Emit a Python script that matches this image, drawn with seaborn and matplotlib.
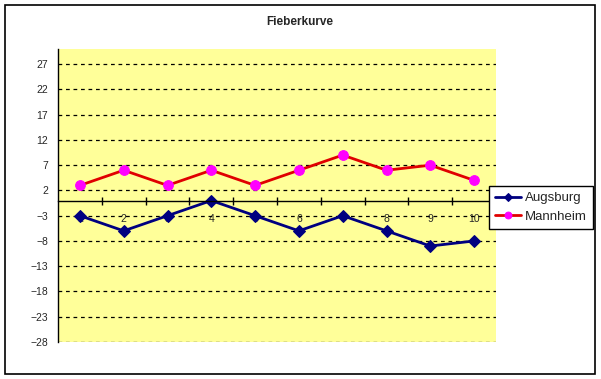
import seaborn as sns
import numpy as np
import pandas as pd
import matplotlib.pyplot as plt
from matplotlib.patches import Rectangle

# data
tage = [1, 2, 3, 4, 5, 6, 7, 8, 9, 10]
augsburg = [-3, -6, -3, 0, -3, -6, -3, -6, -9, -8]
mannheim = [3, 6, 3, 6, 3, 6, 9, 6, 7, 4]
y_ticks = [-28, -23, -18, -13, -8, -3, 2, 7, 12, 17, 22, 27]

df = pd.DataFrame({'Tag': tage, 'Augsburg': augsburg, 'Mannheim': mannheim})

sns.set_style('white')
plt.rcParams['font.family'] = ['Liberation Sans', 'DejaVu Sans']

fig = plt.figure(figsize=(6.01, 3.79), dpi=100)
ax = fig.add_axes([58 / 601, 37 / 379, 438 / 601, 293 / 379])
ax.set_facecolor('#FFFF99')

# outer chart border
fig.patches.append(Rectangle((5 / 601, 5 / 379), 590 / 601, 369 / 379,
                             transform=fig.transFigure, fill=False,
                             edgecolor='black', linewidth=1.2))

sns.lineplot(data=df, x='Tag', y='Augsburg', ax=ax, color='#000080',
             marker='D', markersize=6.5, markerfacecolor='#000080',
             markeredgecolor='#000080', linewidth=2, label='Augsburg',
             legend=False)
sns.lineplot(data=df, x='Tag', y='Mannheim', ax=ax, color='#E00000',
             marker='o', markersize=7, markerfacecolor='#FF00FF',
             markeredgecolor='#FF00FF', linewidth=2, label='Mannheim',
             legend=False)

ax.set_xlim(0.5, 10.5)
ax.set_ylim(-28, 30)
ax.set_yticks(y_ticks)
ax.set_xticks(tage)
ax.set_xticks(np.arange(1.5, 10.5, 1), minor=True)
ax.set_xlabel('')
ax.set_ylabel('')

ax.grid(axis='y', color='black', linestyle=(0, (3, 3)), linewidth=0.9)
ax.grid(axis='x', visible=False)

for s in ['top', 'right']:
    ax.spines[s].set_visible(False)
ax.spines['left'].set_color('black')
ax.spines['left'].set_linewidth(1)
ax.spines['bottom'].set_position(('data', 0))
ax.spines['bottom'].set_color('black')
ax.spines['bottom'].set_linewidth(1)

ax.tick_params(axis='y', which='major', direction='out', length=4,
               width=1, color='black', labelsize=7.5, pad=3)
ax.tick_params(axis='x', which='major', length=0, labelsize=7.5, pad=10)
ax.tick_params(axis='x', which='minor', direction='inout', length=6,
               width=1, color='black', bottom=True)

fig.text(300 / 601, 1 - 22 / 379, 'Fieberkurve', ha='center', va='center',
         fontsize=8.5, fontweight='bold')

handles = ax.get_lines()[:2]
leg = fig.legend(handles, ['Augsburg', 'Mannheim'], loc='upper left',
                 bbox_to_anchor=(489 / 601, 1 - 186 / 379), fontsize=9.5,
                 frameon=True, fancybox=False, framealpha=1,
                 edgecolor='black', borderpad=0.45, handlelength=2.0,
                 handletextpad=0.3, labelspacing=0.5, borderaxespad=0,
                 markerscale=0.7)
leg.get_frame().set_linewidth(1)

fig.savefig('out.png', dpi=100)
